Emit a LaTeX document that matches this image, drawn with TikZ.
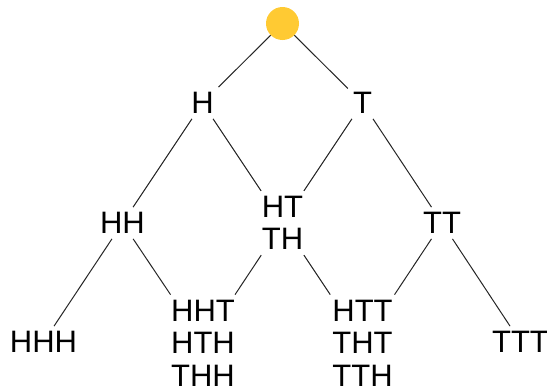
\documentclass[tikz,border=0pt]{standalone}
\usepackage{fontspec}
\setmainfont{Liberation Sans}
\definecolor{coinyellow}{RGB}{255,202,51}
\begin{document}
\begin{tikzpicture}[x=1pt,y=-1pt,
  lbl/.style={font=\fontsize{31}{32.5}\selectfont, align=center, inner sep=5pt},
  edge/.style={line width=1pt, draw=black!85}]
\useasboundingbox (0,0) rectangle (547,388);
\node[circle, fill=coinyellow, minimum size=33pt, inner sep=0pt] (root) at (282.5,23.5) {};
\node[lbl] (h) at (202.5,103) {H};
\node[lbl] (t) at (362.5,103) {T};
\node[lbl] (hh) at (122.5,223) {HH};
\node[lbl] (ht) at (282.5,223) {HT\\TH};
\node[lbl] (tt) at (442,223) {TT};
\node[lbl] (hhh) at (43.5,342) {HHH};
\node[lbl] (hht) at (203,343) {HHT\\HTH\\THH};
\node[lbl] (htt) at (362.5,343) {HTT\\THT\\TTH};
\node[lbl] (ttt) at (520.5,342) {TTT};
\draw[edge] (root) -- (h);
\draw[edge] (root) -- (t);
\draw[edge] (h) -- (hh);
\draw[edge] (h) -- (ht);
\draw[edge] (t) -- (ht);
\draw[edge] (t) -- (tt);
\draw[edge] (hh) -- (hhh);
\draw[edge] (hh) -- (hht);
\draw[edge] (ht) -- (hht);
\draw[edge] (ht) -- (htt);
\draw[edge] (tt) -- (htt);
\draw[edge] (tt) -- (ttt);
\end{tikzpicture}
\end{document}
